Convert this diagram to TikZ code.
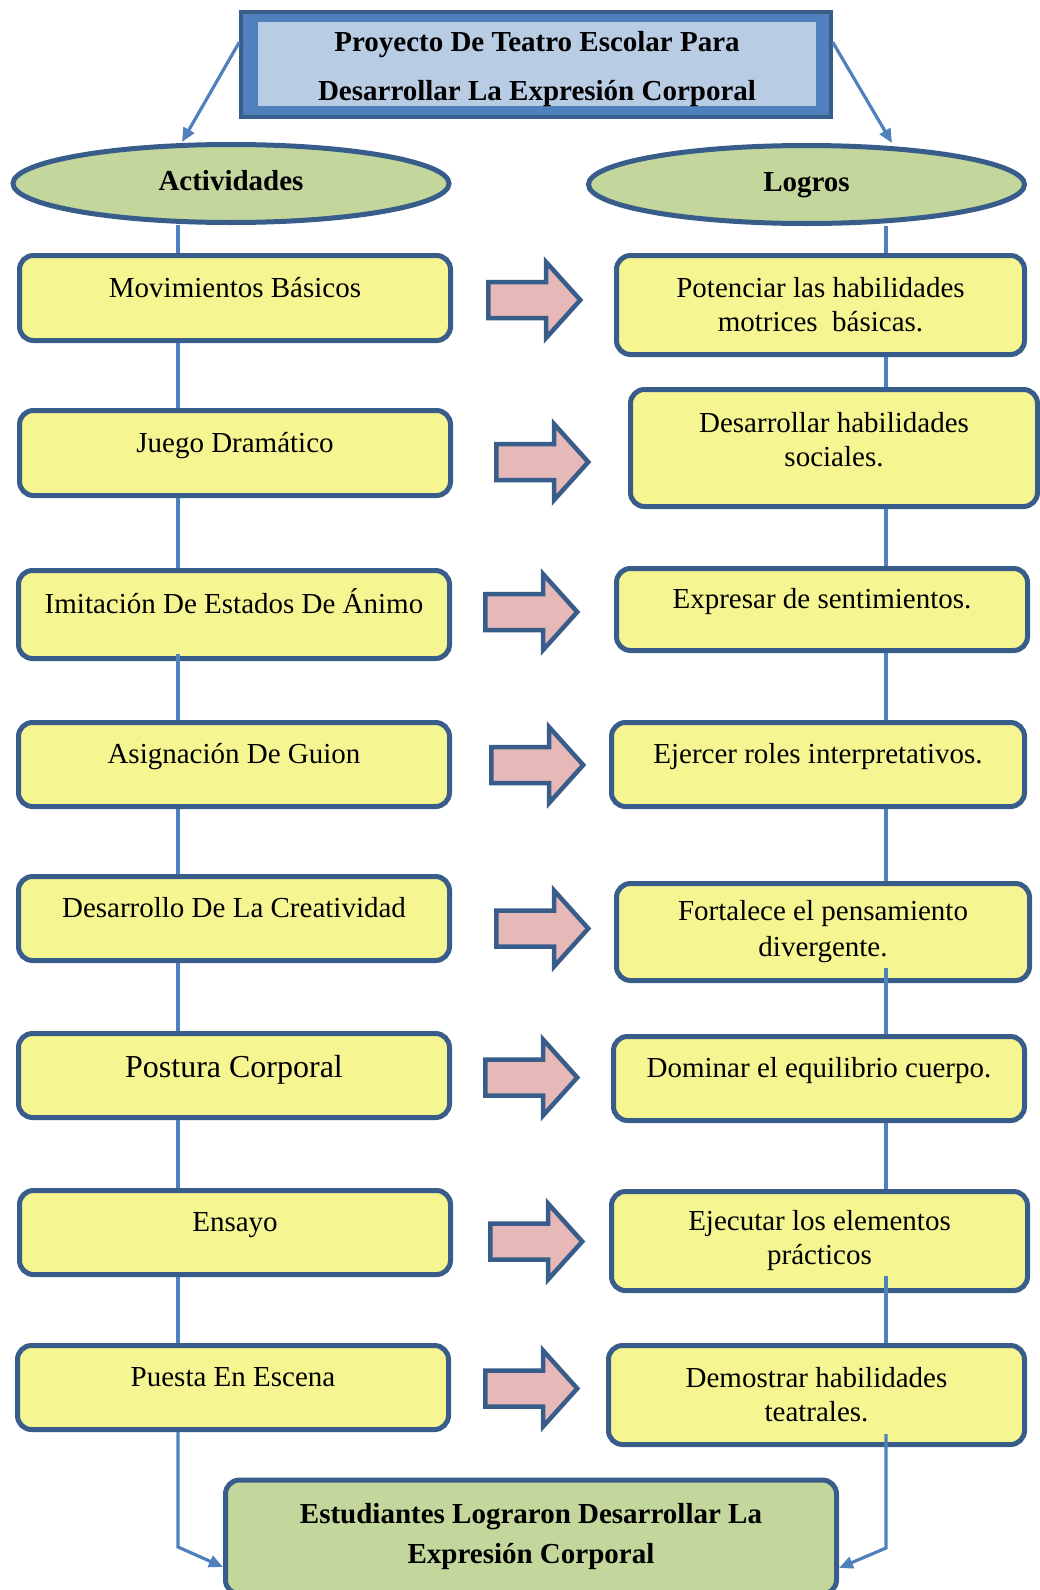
\documentclass[tikz,border=0pt]{standalone}
\usepackage{fontspec}
\setmainfont{Liberation Serif}
\usetikzlibrary{shapes.geometric,shapes.arrows,arrows.meta,calc}

\definecolor{bordeAzul}{HTML}{385D8A}
\definecolor{lineaAzul}{HTML}{4F81BD}
\definecolor{fondoTitulo}{HTML}{B8CCE4}
\definecolor{fondoCaja}{HTML}{F5F591}
\definecolor{fondoVerde}{HTML}{C3D69B}
\definecolor{fondoFlecha}{HTML}{E6B9B8}

\begin{document}
\begin{tikzpicture}[
        x=1pt, y=-1pt,
        every node/.style={font=\fontsize{29}{34}\selectfont},
        caja/.style={rectangle, rounded corners=14pt, draw=bordeAzul, line width=5pt, fill=fondoCaja, align=center, inner sep=2pt},
        izq/.style={caja, minimum width=431pt, minimum height=84pt},
        unalinea/.style={text height=20pt, text depth=22pt},
        ovalo/.style={ellipse, draw=bordeAzul, line width=5pt, fill=fondoVerde, minimum width=436pt, minimum height=78pt, text height=20pt, text depth=6pt, font=\fontsize{29}{34}\selectfont\bfseries},
        flecha/.style={single arrow, draw=bordeAzul, line width=4.5pt, fill=fondoFlecha, inner xsep=0pt, inner ysep=15.75pt, minimum height=92pt, single arrow head extend=20pt, single arrow tip angle=96, anchor=tail},
        linea/.style={draw=lineaAzul, line width=3.2pt},
        enlace/.style={lineaAzul, line width=3.2pt, -{Triangle[length=14pt, width=12pt]}}
    ]
    \useasboundingbox (0,0) rectangle (1040,1590);

    % --- Title ---
    \node[draw=bordeAzul, line width=3.5pt, fill=lineaAzul, minimum width=590pt, minimum height=105pt] (marco) at (536,64.5) {};
    \fill[fondoTitulo] ([shift={(19,12)}]marco.north west) rectangle ([shift={(-17,-13)}]marco.south east);
    \node[align=center, font=\fontsize{29}{49}\selectfont\bfseries] (titulo) at (537,69) {Proyecto De Teatro Escolar Para\\Desarrollar La Expresión Corporal};

    % --- Headers ---
    \node[ovalo] (actividades) at (231,183.5) {Actividades};
    \node[ovalo] (logros) at (806.5,184.5) {Logros};

    \draw[enlace] ([yshift=-32pt]marco.north west) -- (actividades.north -| 182,0);
    \draw[enlace] ([yshift=-32pt]marco.north east) -- (logros.north -| 892,0);

    % --- Left column: activities ---
    \node[izq, unalinea, minimum height=85pt] (act1) at (235,298) {Movimientos Básicos};
    \node[izq, unalinea, minimum height=85pt] (act2) at (235,453) {Juego Dramático};
    \node[izq, unalinea, minimum height=88pt] (act3) at (234,614.5) {Imitación De Estados De Ánimo};
    \node[izq, unalinea] (act4) at (234,764.5) {Asignación De Guion};
    \node[izq, unalinea] (act5) at (234,918.5) {Desarrollo De La Creatividad};
    \node[izq, unalinea, text depth=16pt, font=\fontsize{32}{38}\selectfont] (act6) at (234,1075.5) {Postura Corporal};
    \node[izq, unalinea] (act7) at (235,1232.5) {Ensayo};
    \node[izq, unalinea] (act8) at (233,1387.5) {Puesta En Escena};

    % --- Right column: achievements ---
    \node[caja, minimum width=408pt, minimum height=99pt] (log1) at (820.5,305) {Potenciar las habilidades\\motrices\ \ básicas.};
    \node[caja, minimum width=407pt, minimum height=117pt] (log2) at (834,448) {Desarrollar habilidades\\sociales.\\[-16pt]\mbox{}};
    \node[caja, unalinea, minimum width=411pt, minimum height=82pt] (log3) at (822,609.5) {Expresar de sentimientos.};
    \node[caja, unalinea, minimum width=413pt, minimum height=84pt] (log4) at (818,764.5) {Ejercer roles interpretativos.};
    \node[caja, minimum width=413pt, minimum height=97pt] (log5) at (823,932) {Fortalece el pensamiento\\[2pt]divergente.};
    \node[caja, unalinea, minimum width=411pt, minimum height=84pt] (log6) at (819,1078.5) {Dominar el equilibrio cuerpo.};
    \node[caja, minimum width=416pt, minimum height=99pt] (log7) at (819.5,1241) {Ejecutar los elementos\\prácticos};
    \node[caja, minimum width=416pt, minimum height=99pt] (log8) at (816.5,1395) {Demostrar habilidades\\teatrales.};

    % --- Block arrows ---
    \node[flecha] (f1) at (486,300) {};
    \node[flecha] (f2) at (494,462) {};
    \node[flecha] (f3) at (483,612) {};
    \node[flecha] (f4) at (489,765) {};
    \node[flecha] (f5) at (494,928.5) {};
    \node[flecha] (f6) at (483,1077.5) {};
    \node[flecha] (f7) at (488,1241.5) {};
    \node[flecha] (f8) at (483,1388.5) {};

    % --- Result ---
    \node[caja, fill=fondoVerde, minimum width=611pt, minimum height=114pt, font=\fontsize{29}{40}\selectfont\bfseries] (final) at (531,1537) {Estudiantes Lograron Desarrollar La\\Expresión Corporal};

    % Column lines
    \coordinate (ejeIzq) at (178,0);
    \coordinate (ejeDer) at (886,0);

    \draw[linea] (actividades.south -| ejeIzq) -- (act1.north -| ejeIzq);
    \draw[linea] (act1.south -| ejeIzq) -- (act2.north -| ejeIzq);
    \draw[linea] (act2.south -| ejeIzq) -- (act3.north -| ejeIzq);
    \draw[linea] ($(ejeIzq |- act3.south)+(0,-7)$) -- (act4.north -| ejeIzq);
    \draw[linea] (act4.south -| ejeIzq) -- (act5.north -| ejeIzq);
    \draw[linea] (act5.south -| ejeIzq) -- (act6.north -| ejeIzq);
    \draw[linea] (act6.south -| ejeIzq) -- (act7.north -| ejeIzq);
    \draw[linea] (act7.south -| ejeIzq) -- (act8.north -| ejeIzq);

    \draw[linea] (logros.south -| ejeDer) -- (log1.north -| ejeDer);
    \draw[linea] (log1.south -| ejeDer) -- (log2.north -| ejeDer);
    \draw[linea] (log2.south -| ejeDer) -- (log3.north -| ejeDer);
    \draw[linea] (log3.south -| ejeDer) -- (log4.north -| ejeDer);
    \draw[linea] (log4.south -| ejeDer) -- (log5.north -| ejeDer);
    \draw[linea] ($(ejeDer |- log5.south)+(0,-15)$) -- (log6.north -| ejeDer);
    \draw[linea] (log6.south -| ejeDer) -- (log7.north -| ejeDer);
    \draw[linea] ($(ejeDer |- log7.south)+(0,-17)$) -- (log8.north -| ejeDer);

    \draw[enlace] (act8.south -| ejeIzq) -- (ejeIzq |- 0,1547) -- (final.west |- 0,1567);
    \draw[enlace] ($(ejeDer |- log8.south)+(0,-13)$) -- (ejeDer |- 0,1548) -- (final.east |- 0,1568);
\end{tikzpicture}
\end{document}
